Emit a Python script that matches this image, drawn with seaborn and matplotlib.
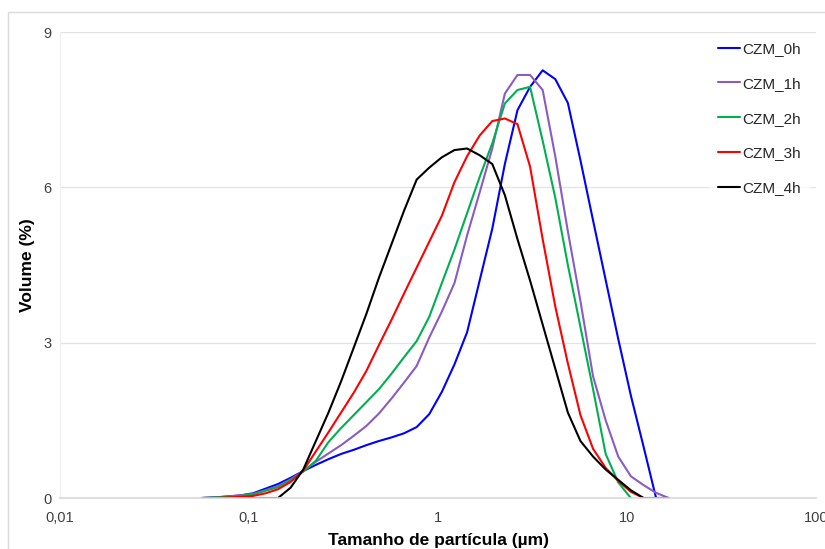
import numpy as np
import pandas as pd
import matplotlib
matplotlib.use("Agg")
import matplotlib.pyplot as plt
import seaborn as sns
from matplotlib.patches import Rectangle

# Particle size classes (µm)
sizes = [0.0567, 0.0661, 0.0771, 0.0899, 0.1048, 0.1222, 0.1425, 0.1661, 0.1937,
         0.2258, 0.2633, 0.3069, 0.3579, 0.4173, 0.4865, 0.5673, 0.6614, 0.7712,
         0.8990, 1.048, 1.222, 1.425, 1.661, 1.937, 2.258, 2.633, 3.070, 3.579,
         4.173, 4.865, 5.673, 6.614, 7.712, 8.990, 10.48, 12.22, 14.25, 16.61]

czm_0h = [0, 0.01, 0.03, 0.05, 0.09, 0.18, 0.27, 0.39, 0.52, 0.64, 0.75, 0.85, 0.93,
          1.02, 1.10, 1.17, 1.25, 1.37, 1.62, 2.05, 2.58, 3.2, 4.2, 5.2, 6.45, 7.49,
          7.94, 8.26, 8.09, 7.63, 6.52, 5.36, 4.21, 3.07, 1.98, 1.0, 0.0, 0.0]
czm_1h = [0, 0.01, 0.03, 0.05, 0.08, 0.15, 0.23, 0.36, 0.52, 0.70, 0.86, 1.02, 1.20,
          1.39, 1.63, 1.92, 2.23, 2.55, 3.1, 3.6, 4.15, 5.07, 5.9, 6.75, 7.81, 8.17,
          8.17, 7.88, 6.6, 5.15, 3.8, 2.35, 1.5, 0.80, 0.42, 0.25, 0.10, 0.0]
czm_2h = [0, 0.01, 0.02, 0.04, 0.07, 0.14, 0.21, 0.34, 0.51, 0.72, 1.08, 1.35, 1.6,
          1.85, 2.1, 2.4, 2.72, 3.03, 3.5, 4.15, 4.8, 5.5, 6.2, 6.85, 7.62, 7.88,
          7.94, 6.9, 5.8, 4.5, 3.3, 2.1, 0.85, 0.3, 0.0]
czm_3h = [0, 0.0, 0.01, 0.02, 0.04, 0.09, 0.17, 0.31, 0.53, 0.9, 1.27, 1.65, 2.03,
          2.45, 2.95, 3.44, 3.95, 4.45, 4.95, 5.45, 6.1, 6.6, 7.0, 7.28, 7.33, 7.22,
          6.4, 5.0, 3.7, 2.6, 1.6, 0.95, 0.58, 0.33, 0.12, 0.0]
czm_4h = [0, 0, 0, 0, 0, 0, 0, 0.2, 0.55, 1.1, 1.65, 2.25, 2.9, 3.55, 4.25, 4.9,
          5.55, 6.15, 6.38, 6.58, 6.72, 6.75, 6.62, 6.45, 5.85, 5.0, 4.2, 3.35, 2.5,
          1.65, 1.1, 0.8, 0.55, 0.35, 0.15, 0.0, 0.0, 0.0]

series_names = ["CZM_0h", "CZM_1h", "CZM_2h", "CZM_3h", "CZM_4h"]
series_vals = [czm_0h, czm_1h, czm_2h, czm_3h, czm_4h]
colors = ["#0000FF", "#8A5CC2", "#00B050", "#FF0000", "#000000"]

x_ticks = [0.01, 0.1, 1, 10, 100]
x_tick_labels = ["0,01", "0,1", "1", "10", "100"]
y_ticks = [0, 3, 6, 9]

rows = []
for name, vals in zip(series_names, series_vals):
    for s, v in zip(sizes, vals):
        rows.append({"size": s, "vol": v, "serie": name})
df = pd.DataFrame(rows)

sns.set_theme(style="white")
plt.rcParams["font.family"] = ["Liberation Sans", "DejaVu Sans"]

fig = plt.figure(figsize=(8.25, 5.49), dpi=100)
ax = fig.add_axes([60/825, 1-498/549, (816-60)/825, (498-32)/549])

sns.lineplot(data=df, x="size", y="vol", hue="serie", hue_order=series_names,
             palette=colors, estimator=None, sort=False, linewidth=1.5, ax=ax)

ax.set_xscale("log")
ax.set_xlim(0.01, 100)
ax.set_ylim(0, 9)
ax.set_xticks(x_ticks)
ax.set_xticklabels(x_tick_labels)
ax.xaxis.set_minor_locator(matplotlib.ticker.NullLocator())
ax.set_yticks(y_ticks)
ax.tick_params(axis="x", length=0, labelsize=10.5, labelcolor="#404040", pad=9)
ax.tick_params(axis="y", length=0, labelsize=10.5, labelcolor="#404040", pad=6)
ax.yaxis.grid(True, color="#E3E3E3", linewidth=0.9)
ax.xaxis.grid(False)
for side in ["top", "right"]:
    ax.spines[side].set_visible(False)
ax.spines["bottom"].set_color("#D9D9D9")
ax.spines["bottom"].set_linewidth(1.2)
ax.spines["left"].set_color("#EFEFEF")
ax.spines["left"].set_linewidth(0.8)

ax.set_xlabel("Tamanho de partícula (µm)", fontsize=12.5, fontweight="bold",
              color="#000000", labelpad=6)
ax.set_ylabel("Volume (%)", fontsize=12.5, fontweight="bold", color="#000000",
              labelpad=6)

handles, labels = ax.get_legend_handles_labels()
leg = ax.legend(handles, labels, loc="upper left", bbox_to_anchor=(0.86, 0.995),
                frameon=True, fontsize=11, handlelength=1.45, handletextpad=0.15,
                labelspacing=1.36, borderaxespad=0, borderpad=0.5)
leg.get_frame().set_facecolor("white")
leg.get_frame().set_edgecolor("white")
for line in leg.get_lines():
    line.set_linewidth(1.5)

fig.add_artist(Rectangle((8/825, -0.1), 1.2, 1.1 - 12/549, transform=fig.transFigure,
                         fill=False, edgecolor="#D9D9D9", linewidth=1.0))

fig.savefig("out.png", dpi=100)
